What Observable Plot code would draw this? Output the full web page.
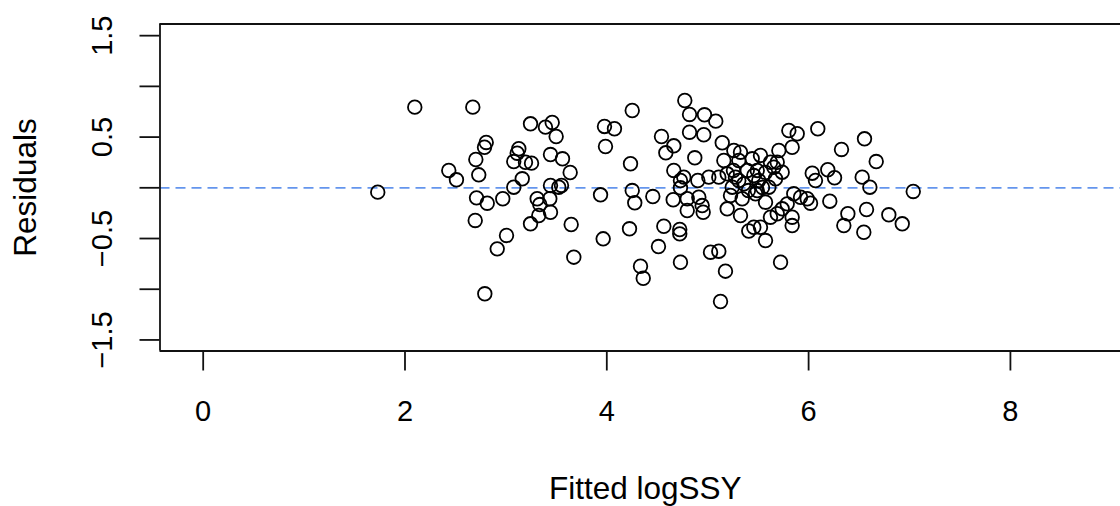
<!DOCTYPE html>
<html>
<head>
<meta charset="utf-8">
<script src="https://cdn.jsdelivr.net/npm/d3@7"></script>
<script src="https://cdn.jsdelivr.net/npm/@observablehq/plot@0.6"></script>
<style>
  html, body { margin: 0; padding: 0; background: #ffffff; }
  #chart svg { display: block; }
</style>
</head>
<body>
<div id="chart"></div>
<script>
// Fitted values (x) and residuals (y)
const fittedLogSSY = [
  1.730, 2.097, 2.672, 2.434, 2.510, 2.702, 2.788, 2.805, 2.731, 2.709,
  2.815, 2.696, 2.969, 3.006, 2.914, 2.791, 3.244, 3.392, 3.459, 3.498,
  3.128, 3.112, 3.078, 3.194, 3.254, 3.442, 3.561, 3.637, 3.162, 3.078,
  3.442, 3.524, 3.551, 3.310, 3.336, 3.435, 3.442, 3.326, 3.244, 3.647,
  3.673, 4.252, 3.977, 4.076, 3.987, 4.235, 3.938, 4.252, 4.277, 4.456,
  3.964, 4.225, 4.334, 4.361, 4.512, 4.565, 4.723, 4.723, 4.730, 4.542,
  4.664, 4.585, 4.664, 4.763, 4.730, 4.730, 4.658, 4.773, 4.820, 4.820,
  4.872, 4.797, 4.797, 4.968, 5.080, 4.961, 5.144, 5.259, 5.325, 5.160,
  5.308, 5.011, 4.902, 5.110, 5.193, 5.275, 5.308, 5.243, 5.358, 4.912,
  4.945, 4.955, 5.226, 5.342, 5.193, 5.325, 5.407, 5.028, 5.110, 5.176,
  5.127, 5.804, 5.887, 5.837, 5.705, 5.523, 5.441, 5.622, 5.689, 5.655,
  5.491, 5.738, 5.457, 5.506, 5.672, 5.606, 5.491, 5.474, 5.853, 5.920,
  5.986, 5.573, 5.788, 5.738, 5.689, 5.837, 5.622, 5.837, 5.457, 5.523,
  5.573, 5.722, 6.091, 6.036, 6.068, 6.190, 6.257, 6.326, 6.554, 6.670,
  6.531, 6.607, 7.037, 6.019, 6.210, 6.389, 6.349, 6.574, 6.547, 6.795,
  6.928, 5.403, 5.543, 5.392, 5.573, 5.255
];
const residuals = [
  -0.043, 0.795, 0.795, 0.171, 0.079, 0.279, 0.400, 0.447, 0.128, -0.099,
  -0.152, -0.322, -0.108, -0.470, -0.602, -1.045, 0.631, 0.598, 0.644, 0.506,
  0.385, 0.341, 0.259, 0.252, 0.243, 0.328, 0.286, 0.151, 0.089, 0.006,
  0.023, 0.006, 0.023, -0.108, -0.165, -0.108, -0.241, -0.273, -0.355, -0.362,
  -0.684, 0.762, 0.605, 0.582, 0.407, 0.237, -0.069, -0.027, -0.148, -0.086,
  -0.503, -0.404, -0.773, -0.892, -0.579, -0.379, -0.411, -0.454, -0.734, 0.506,
  0.414, 0.345, 0.171, 0.105, 0.072, 0.000, -0.118, 0.861, 0.723, 0.548,
  0.296, -0.108, -0.224, 0.720, 0.657, 0.523, 0.444, 0.368, 0.351, 0.269,
  0.269, 0.105, 0.072, 0.105, 0.138, 0.105, 0.072, 0.006, 0.039, -0.093,
  -0.175, -0.241, -0.076, -0.108, -0.207, -0.273, -0.426, -0.635, -0.625, -0.822,
  -1.121, 0.565, 0.533, 0.400, 0.368, 0.319, 0.286, 0.252, 0.252, 0.203,
  0.171, 0.154, 0.121, 0.072, 0.089, 0.006, -0.027, -0.059, -0.059, -0.093,
  -0.108, -0.142, -0.158, -0.207, -0.256, -0.290, -0.290, -0.372, -0.389, -0.389,
  -0.520, -0.734, 0.582, 0.144, 0.072, 0.178, 0.099, 0.378, 0.483, 0.259,
  0.105, 0.006, -0.036, -0.152, -0.132, -0.256, -0.372, -0.214, -0.438, -0.266,
  -0.355, -0.027, 0.003, 0.171, 0.151, 0.171
];

const xTicks = [0, 2, 4, 6, 8];
const yTicks = [-1.5, -1, -0.5, 0, 0.5, 1, 1.5];
const yTickLabels = [-1.5, -0.5, 0.5, 1.5];
const xLabel = "Fitted logSSY";
const yLabel = "Residuals";

const points = fittedLogSSY.map((x, i) => ({x, y: residuals[i]}));

const xDomain = [-0.428, 9.091];
const yDomain = [-1.609, 1.615];
const font = "'Liberation Sans', Arial, Helvetica, sans-serif";
const fmt = d => (d < 0 ? "\u2212" + String(Math.abs(d)) : String(d));

const chart = Plot.plot({
  width: 1120,
  height: 506,
  marginLeft: 159.5,
  marginRight: 0,
  marginTop: 23.5,
  marginBottom: 155.5,
  style: {fontFamily: font, background: "#ffffff", color: "#000000"},
  x: {domain: xDomain},
  y: {domain: yDomain},
  marks: [
    // zero reference line
    Plot.ruleY([0], {stroke: "#6495ED", strokeWidth: 1.8, strokeDasharray: "10,6"}),
    // box (left, top, bottom)
    Plot.ruleX([xDomain[0]], {stroke: "#111", strokeWidth: 1.8}),
    Plot.ruleY([yDomain[0], yDomain[1]], {stroke: "#111", strokeWidth: 1.8}),
    // axes
    Plot.axisX({ticks: xTicks, tickSize: 20, tickPadding: 29, fontSize: 29, label: null,
                stroke: "#111", strokeWidth: 1.8, tickFormat: fmt}),
    Plot.axisY({ticks: yTicks, tickSize: 20, label: null, stroke: "#111", strokeWidth: 1.8, fill: "none"}),
    Plot.text(yTickLabels, {y: d => d, text: fmt, frameAnchor: "left", dx: -57,
                            rotate: -90, textAnchor: "middle", lineAnchor: "middle", fontSize: 29, fill: "#000"}),
    // axis titles
    Plot.text([xLabel], {text: d => d, frameAnchor: "bottom", dx: 5, dy: 148,
                         lineAnchor: "bottom", fontSize: 31.5, fill: "#000"}),
    Plot.text([yLabel], {text: d => d, frameAnchor: "left", dx: -134, rotate: -90,
                         textAnchor: "middle", lineAnchor: "middle", fontSize: 31.5, fill: "#000"}),
    // points
    Plot.dot(points, {x: "x", y: "y", r: 6.8, stroke: "#000", strokeWidth: 1.8, fill: "none"})
  ]
});
document.getElementById("chart").append(chart);
</script>
</body>
</html>
